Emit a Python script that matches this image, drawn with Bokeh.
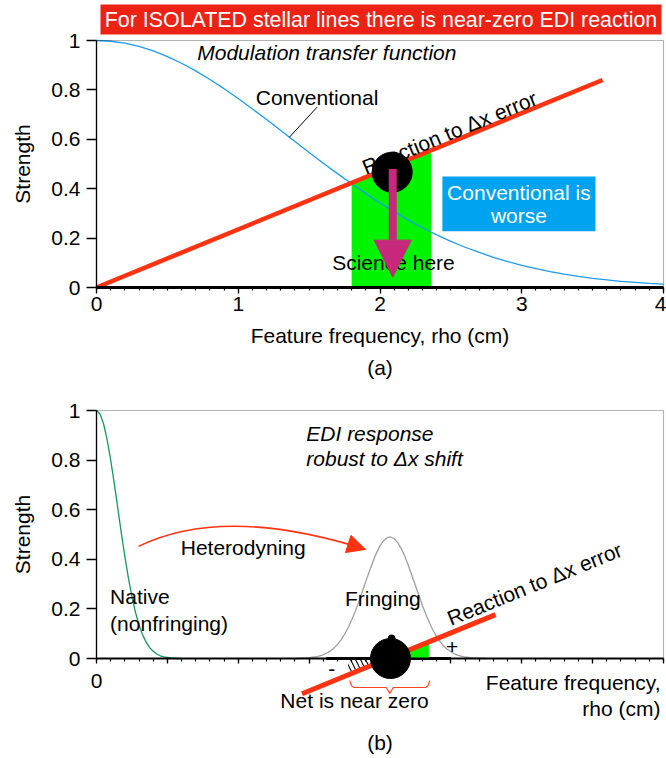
import numpy as np
from bokeh.plotting import figure
from bokeh.layouts import column
from bokeh.models import Range1d, FixedTicker, Arrow, NormalHead, BoxAnnotation
from bokeh.embed import file_html
from bokeh.resources import INLINE
from bokeh.core.properties import value

# ------------------------------------------------------------------ data
# (a) conventional modulation transfer function
mtf_x = [0.0, 0.1, 0.2, 0.3, 0.4, 0.5, 0.6, 0.7, 0.8, 0.9, 1.0, 1.1, 1.2, 1.3,
         1.4, 1.5, 1.6, 1.7, 1.8, 1.9, 2.0, 2.1, 2.2, 2.3, 2.4, 2.5, 2.6, 2.7,
         2.8, 2.9, 3.0, 3.1, 3.2, 3.3, 3.4, 3.5, 3.6, 3.7, 3.8, 3.9, 4.0]
mtf_y = [1.000, 0.997, 0.989, 0.976, 0.958, 0.935, 0.908, 0.877, 0.842, 0.805,
         0.765, 0.723, 0.680, 0.636, 0.591, 0.547, 0.503, 0.461, 0.420, 0.380,
         0.342, 0.307, 0.273, 0.242, 0.213, 0.187, 0.163, 0.142, 0.122, 0.105,
         0.090, 0.076, 0.064, 0.054, 0.045, 0.037, 0.031, 0.025, 0.021, 0.017,
         0.014]
react_a_x = [0.0, 3.57]
react_a_y = [0.0, 0.84]
science_band = [1.80, 2.36]
dot_a_x = [2.086]
dot_a_y = [0.467]
arrow_a_x = [2.09, 2.09]
arrow_a_y = [0.48, 0.042]

# (b) EDI response
native_x = [0.0, 0.025, 0.05, 0.075, 0.1, 0.125, 0.15, 0.175, 0.2, 0.225, 0.25,
            0.275, 0.3, 0.325, 0.35, 0.375, 0.4, 0.425, 0.45, 0.475, 0.5, 0.525,
            0.55, 0.575, 0.6]
native_y = [1.000, 0.986, 0.946, 0.882, 0.801, 0.707, 0.607, 0.506, 0.411, 0.325,
            0.249, 0.186, 0.135, 0.096, 0.066, 0.044, 0.029, 0.018, 0.011, 0.007,
            0.004, 0.002, 0.001, 0.000, 0.000]
fringe_x = [1.40, 1.45, 1.50, 1.55, 1.60, 1.625, 1.65, 1.675, 1.70, 1.725, 1.75,
            1.775, 1.80, 1.825, 1.85, 1.875, 1.90, 1.925, 1.95, 1.975, 2.00,
            2.025, 2.05, 2.075, 2.10, 2.125, 2.15, 2.175, 2.20, 2.225, 2.25,
            2.275, 2.30, 2.325, 2.35, 2.375, 2.40, 2.425, 2.45, 2.475, 2.50,
            2.525, 2.55, 2.60, 2.65, 2.70, 2.75]
fringe_y = [0.000, 0.001, 0.003, 0.007, 0.015, 0.022, 0.030, 0.042, 0.057, 0.075,
            0.097, 0.124, 0.155, 0.190, 0.228, 0.269, 0.311, 0.352, 0.390, 0.425,
            0.454, 0.475, 0.487, 0.490, 0.483, 0.467, 0.443, 0.412, 0.375, 0.335,
            0.294, 0.253, 0.213, 0.176, 0.142, 0.113, 0.088, 0.067, 0.050, 0.037,
            0.027, 0.019, 0.013, 0.006, 0.002, 0.001, 0.000]
react_b_x = [1.45, 2.815]
react_b_y = [-0.142, 0.177]
net_pos = [2.057, 2.345]
net_neg = [1.775, 2.057]
fringe_base = [1.62, 2.50]
dot_b_x = [2.074]
dot_b_y = [0.0]
bump_b_x = [2.082]
bump_b_y = [0.081]

# ticks
x_ticks_a = [0, 1, 2, 3, 4]
x_labels_a = ["0", "1", "2", "3", "4"]
x_ticks_b = [0, 0.5, 1, 1.5, 2, 2.5, 3, 3.5, 4]
x_labels_b = ["0", "", "", "", "", "", "", "", ""]
x_minor = [round(0.1 * i, 1) for i in range(41)]
y_ticks = [0, 0.2, 0.4, 0.6, 0.8, 1.0]
y_labels = ["0", "0.2", "0.4", "0.6", "0.8", "1"]

# ------------------------------------------------------------------ style
FONT = "Liberation Sans"
FS = "21px"
RED = "#ff3311"
BLUE = "#1e9bf0"
GREEN = "#00f400"
MAG = "#c8287c"
CYAN = "#00a3ef"
XPX = 141.75          # px per x unit
X0 = 96               # page x of x = 0
W = 666


def make_fig(height, y0_px, ypx):
    """Figure whose frame covers the whole canvas; axes drawn at the data origin."""
    p = figure(frame_width=W, frame_height=height, title=None,
               x_range=Range1d(-X0 / XPX, (W - X0) / XPX),
               y_range=Range1d(-(height - y0_px) / ypx, y0_px / ypx),
               min_border=0, min_border_left=0, min_border_right=0,
               min_border_top=0, min_border_bottom=0,
               output_backend="svg", toolbar_location=None)
    p.grid.visible = False
    p.outline_line_color = None
    p.background_fill_color = "white"
    p.border_fill_color = "white"
    ya = p.yaxis[0]
    ya.fixed_location = 0
    ya.ticker = FixedTicker(ticks=y_ticks)
    ya.major_label_overrides = dict(zip(y_ticks, y_labels))
    ya.bounds = (0, 1)
    ya.major_tick_out = 10
    ya.major_tick_in = 0
    ya.minor_tick_out = 0
    ya.minor_tick_in = 0
    ya.axis_line_width = 1.3
    ya.major_tick_line_width = 1.3
    ya.major_label_standoff = 6
    ya.major_label_text_font = FONT
    ya.major_label_text_font_size = FS
    ya.major_label_text_color = "black"
    xa = p.xaxis[0]
    xa.fixed_location = 0
    xa.bounds = (0, 4)
    xa.major_tick_out = 6
    xa.major_tick_in = 0
    xa.minor_tick_out = 3
    xa.minor_tick_in = 0
    xa.major_tick_line_width = 1.3
    xa.minor_tick_line_width = 1.2
    xa.major_label_text_font = FONT
    xa.major_label_text_font_size = FS
    xa.major_label_text_color = "black"
    p.add_layout(BoxAnnotation(left=0, right=4, bottom=0, top=1, fill_alpha=0,
                               line_color="black", line_width=1.2))
    return p


def txt(p, x, y, s, **kw):
    opts = dict(text_font=value(FONT), text_font_size=value(FS), text_align="center",
                text_baseline="middle", text_color="black")
    opts.update(kw)
    p.text(x=[x], y=[y], text=[s], **opts)


# ------------------------------------------------------------------ panel (a)
p1 = make_fig(385, 287, 247)
xa = p1.xaxis[0]
xa.ticker = FixedTicker(ticks=x_ticks_a, minor_ticks=x_minor)
xa.major_label_overrides = dict(zip(x_ticks_a, x_labels_a))
xa.axis_line_width = 3
xa.major_label_standoff = 3

# banner
p1.quad(left=[0.028], right=[3.986], bottom=[1.0243], top=[1.1457],
        fill_color="#ec2215", line_color=None)
txt(p1, 2.007, 1.085, "For ISOLATED stellar lines there is near-zero EDI reaction",
    text_color="white", text_font_size=value("21.4px"))

# green science band under the reaction line
b0, b1 = science_band
ry = np.interp(science_band, react_a_x, react_a_y)
p1.patch([b0, b1, b1, b0], [0, 0, ry[1], ry[0]], fill_color=GREEN, line_color=None)
p1.line(mtf_x, mtf_y, line_color=BLUE, line_width=1.3)
p1.line(react_a_x, react_a_y, line_color=RED, line_width=4.5)
txt(p1, 2.49, 0.627, "Reaction to \u0394x error", angle=22.3, angle_units="deg")
p1.scatter(dot_a_x, dot_a_y, marker="circle", size=40, fill_color="black",
           line_color="black")
txt(p1, 2.095, 0.102, "Science here")
p1.add_layout(Arrow(x_start=arrow_a_x[0], y_start=arrow_a_y[0],
                    x_end=arrow_a_x[1], y_end=arrow_a_y[1],
                    line_color=MAG, line_width=8,
                    end=NormalHead(size=37, fill_color=MAG, line_color=MAG,
                                   line_width=1)))
# "Conventional is worse" box
p1.quad(left=[2.44], right=[3.52], bottom=[0.228], top=[0.449],
        fill_color=CYAN, line_color=None)
txt(p1, 2.98, 0.386, "Conventional is", text_color="white")
txt(p1, 2.98, 0.2915, "worse", text_color="white")
# labels
txt(p1, 1.556, 0.77, "Conventional")
p1.line([1.556, 1.36], [0.73, 0.608], line_color="black", line_width=1)
txt(p1, 1.625, 0.953, "Modulation transfer function", text_font_style="italic")
txt(p1, -0.522, 0.5, "Strength", angle=90, angle_units="deg")
txt(p1, 2.0, -0.1943, "Feature frequency, rho (cm)")
txt(p1, 2.0, -0.3239, "(a)")

# ------------------------------------------------------------------ panel (b)
p2 = make_fig(371, 658 - 385, 248)
xb = p2.xaxis[0]
xb.ticker = FixedTicker(ticks=x_ticks_b, minor_ticks=x_minor)
xb.major_label_overrides = dict(zip(x_ticks_b, x_labels_b))
xb.axis_line_width = 2
xb.major_tick_out = 5
xb.major_label_standoff = 10

p2.line(native_x, native_y, line_color="#13995a", line_width=1.3)
p2.line(fringe_x, fringe_y, line_color="#a0a0a0", line_width=1.3)
p2.line(fringe_base, [0, 0], line_color="black", line_width=3)
rp = np.interp(net_pos, react_b_x, react_b_y)
p2.patch([net_pos[0], net_pos[1], net_pos[1]], [0, 0, rp[1]],
         fill_color=GREEN, line_color=None)
rn = np.interp(net_neg, react_b_x, react_b_y)
p2.patch([net_neg[0], net_neg[1], net_neg[0]], [0, 0, rn[0]],
         fill_alpha=0, line_color=None, hatch_pattern="\\", hatch_color="black",
         hatch_scale=10, hatch_weight=1.1)
p2.line(react_b_x, react_b_y, line_color=RED, line_width=5)
p2.scatter(dot_b_x, dot_b_y, marker="circle", size=40, fill_color="black",
           line_color="black")
p2.scatter(bump_b_x, bump_b_y, marker="circle", size=7, fill_color="black",
           line_color="black")

txt(p2, 1.48, 0.907, "EDI response", text_align="left", text_font_style="italic")
txt(p2, 1.48, 0.806, "robust to \u0394x shift", text_align="left",
    text_font_style="italic")
txt(p2, 1.035, 0.449, "Heterodyning")
txt(p2, 0.096, 0.251, "Native", text_align="left")
txt(p2, 0.096, 0.141, "(nonfringing)", text_align="left")
txt(p2, 2.02, 0.242, "Fringing")
txt(p2, 3.09, 0.301, "Reaction to \u0394x error", angle=22.2, angle_units="deg")
txt(p2, 1.66, -0.044, "-")
txt(p2, 2.509, 0.046, "+")

# heterodyning curved arrow
p2.quadratic(x0=[0.296], y0=[0.452], x1=[1.897], y1=[0.44], cx=[0.903], cy=[0.62],
             line_color=RED, line_width=1.6)
p2.add_layout(Arrow(x_start=1.897 - 0.08 * 0.994, y_start=0.44 + 0.08 * 0.18,
                    x_end=1.897, y_end=0.44, line_color=RED, line_width=1.6,
                    end=NormalHead(size=18, fill_color=RED, line_color=RED,
                                   line_width=1)))

# brace under the net region
bc, bw = 2.069, 0.282
bx = [bc - bw, bc - bw + 0.012, bc - bw + 0.03, bc - 0.025, bc, bc + 0.025,
      bc + bw - 0.03, bc + bw - 0.012, bc + bw]
by = [-0.089, -0.110, -0.117, -0.117, -0.141, -0.117, -0.117, -0.110, -0.089]
p2.line(bx, by, line_color="#ff4422", line_width=1.2)

txt(p2, 1.82, -0.169, "Net is near zero")
txt(p2, 3.979, -0.096, "Feature frequency,", text_align="right")
txt(p2, 3.979, -0.203, "rho (cm)", text_align="right")
txt(p2, 2.0, -0.337, "(b)")
txt(p2, -0.522, 0.5, "Strength", angle=90, angle_units="deg")

layout = column(p1, p2)
open("out.html", "w").write(file_html(layout, INLINE))
